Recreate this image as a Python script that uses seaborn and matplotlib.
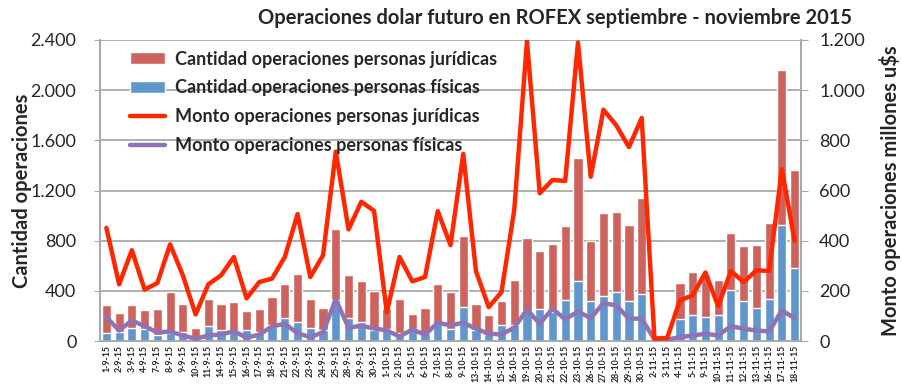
import numpy as np
import pandas as pd
import seaborn as sns
import matplotlib.pyplot as plt
from matplotlib.ticker import FixedLocator, FuncFormatter
from matplotlib.patches import Patch
from matplotlib.lines import Line2D

fechas = [
    "1-9-15", "2-9-15", "3-9-15", "4-9-15", "7-9-15", "8-9-15", "9-9-15", "10-9-15",
    "11-9-15", "14-9-15", "15-9-15", "16-9-15", "17-9-15", "18-9-15", "21-9-15",
    "22-9-15", "23-9-15", "24-9-15", "25-9-15", "28-9-15", "29-9-15", "30-9-15",
    "1-10-15", "2-10-15", "5-10-15", "6-10-15", "7-10-15", "8-10-15", "9-10-15",
    "13-10-15", "14-10-15", "15-10-15", "16-10-15", "19-10-15", "20-10-15", "21-10-15",
    "22-10-15", "23-10-15", "26-10-15", "27-10-15", "28-10-15", "29-10-15", "30-10-15",
    "2-11-15", "3-11-15", "4-11-15", "5-11-15", "9-11-15", "10-11-15", "11-11-15",
    "12-11-15", "13-11-15", "16-11-15", "17-11-15", "18-11-15",
]

# cantidad de operaciones (eje izquierdo)
cant_fisicas = [
    63, 71, 103, 92, 49, 63, 71, 31, 119, 84, 79, 84, 71, 124, 183, 151, 103, 84, 324,
    183, 151, 85, 97, 60, 95, 60, 137, 97, 271, 84, 57, 129, 124, 231, 257, 231, 324,
    479, 319, 356, 390, 319, 372, 2, 2, 175, 207, 191, 207, 404, 319, 260, 335, 927, 580,
]
cant_juridicas = [
    224, 149, 184, 153, 203, 325, 221, 69, 213, 208, 229, 152, 181, 226, 269, 381, 229,
    178, 568, 341, 325, 311, 168, 277, 117, 205, 315, 291, 565, 211, 147, 187, 360, 591,
    459, 541, 592, 981, 477, 664, 638, 605, 768, 3, 3, 285, 341, 338, 277, 456, 437, 504,
    605, 1233, 784,
]

# monto operado en millones u$s (eje derecho)
monto_juridicas = [
    451, 226, 362, 205, 231, 385, 262, 106, 226, 262, 335, 170, 235, 249, 335, 506, 255,
    342, 755, 445, 555, 519, 115, 335, 238, 255, 518, 382, 746, 278, 135, 195, 522, 1195,
    589, 642, 638, 1190, 655, 922, 860, 773, 889, 10, 12, 162, 182, 273, 139, 279, 235,
    282, 279, 685, 399,
]
monto_fisicas = [
    95, 42, 82, 59, 34, 38, 22, 9, 22, 26, 39, 13, 26, 58, 69, 31, 15, 35, 166, 53, 61,
    50, 42, 18, 46, 25, 73, 62, 73, 49, 29, 26, 53, 125, 69, 129, 86, 118, 91, 151, 142,
    89, 89, 6, 6, 15, 22, 29, 22, 59, 49, 42, 38, 122, 91,
]

df = pd.DataFrame({
    "fecha": fechas,
    "fisicas": cant_fisicas,
    "juridicas": cant_juridicas,
    "monto_jur": monto_juridicas,
    "monto_fis": monto_fisicas,
})
df["total"] = df["fisicas"] + df["juridicas"]
df["pos"] = np.arange(len(df))

sns.set_style("white")
plt.rcParams["font.family"] = ["Lato", "DejaVu Sans"]

col_jur = "#CD635C"
col_fis = "#6096CB"
col_line_jur = "#FF2600"
col_line_fis = "#8F73B5"
gris = "#A9A9A9"

fig = plt.figure(figsize=(9.02, 3.89), dpi=100)
ax = fig.add_axes([100 / 902, 48 / 389, 701 / 902, 301 / 389])

# barras apiladas: total (jurídicas arriba) y físicas por delante
sns.barplot(data=df, x="fecha", y="total", color=col_jur, width=0.72,
            saturation=1, ax=ax, zorder=2)
sns.barplot(data=df, x="fecha", y="fisicas", color=col_fis, width=0.72,
            saturation=1, ax=ax, zorder=3)

ax.set_ylim(0, 2400)
ax.set_xlim(-0.5, len(df) - 0.5)
ax.yaxis.set_major_locator(FixedLocator(np.arange(0, 2401, 400)))
fmt = FuncFormatter(lambda v, p: f"{v:,.0f}".replace(",", "."))
ax.yaxis.set_major_formatter(fmt)
ax.grid(axis="y", color=gris, linewidth=1.3, zorder=0)
ax.set_axisbelow(True)
ax.set_xlabel("")
ax.set_ylabel("Cantidad operaciones", fontsize=14.5, fontweight="bold")
ax.yaxis.set_label_coords(-0.097, 0.5)
ax.tick_params(axis="y", labelsize=13, length=4, color=gris, pad=13)
ax.tick_params(axis="x", which="major", length=0, labelsize=6.3, rotation=90, pad=3)
ax.xaxis.set_minor_locator(FixedLocator(np.arange(-0.5, len(df), 1)))
ax.tick_params(axis="x", which="minor", length=4, color=gris, width=1)
for lab in ax.get_xticklabels():
    lab.set_fontweight("bold")
for s in ["left", "bottom", "right"]:
    ax.spines[s].set_color(gris)
    ax.spines[s].set_linewidth(1.3)
ax.spines["top"].set_visible(False)

# montos en el eje derecho
ax2 = ax.twinx()
sns.lineplot(data=df, x="pos", y="monto_jur", color=col_line_jur, linewidth=3.2,
             ax=ax2, zorder=5)
sns.lineplot(data=df, x="pos", y="monto_fis", color=col_line_fis, linewidth=3.2,
             ax=ax2, zorder=4)
ax2.set_ylim(0, 1200)
ax2.set_xlim(-0.5, len(df) - 0.5)
ax2.yaxis.set_major_locator(FixedLocator(np.arange(0, 1201, 200)))
ax2.yaxis.set_major_formatter(fmt)
ax2.set_ylabel("Monto operaciones millones u$s", fontsize=14.5, fontweight="bold",
               labelpad=10)
ax2.tick_params(axis="y", labelsize=13, length=5, color=gris, pad=8)
ax2.set_xlabel("")
for s in ["left", "bottom", "right"]:
    ax2.spines[s].set_color(gris)
    ax2.spines[s].set_linewidth(1.3)
ax2.spines["top"].set_visible(False)

handles = [
    Patch(facecolor=col_jur, label="Cantidad operaciones personas jurídicas"),
    Patch(facecolor=col_fis, label="Cantidad operaciones personas físicas"),
    Line2D([], [], color=col_line_jur, linewidth=3.2, label="Monto operaciones personas jurídicas"),
    Line2D([], [], color=col_line_fis, linewidth=3.2, label="Monto operaciones personas físicas"),
]
leg = ax2.legend(handles=handles, loc="upper left", bbox_to_anchor=(0.043, 0.965),
                 frameon=False, prop={"size": 13, "weight": "bold"},
                 handlelength=1.95, handleheight=0.6, labelspacing=0.66,
                 handletextpad=0.55, borderaxespad=0, borderpad=0)

fig.text(852 / 902, 1 - 18 / 389, "Operaciones dolar futuro en ROFEX septiembre - noviembre 2015",
         ha="right", va="center", fontsize=14.5, fontweight="bold")

fig.savefig("out.png", dpi=100)
